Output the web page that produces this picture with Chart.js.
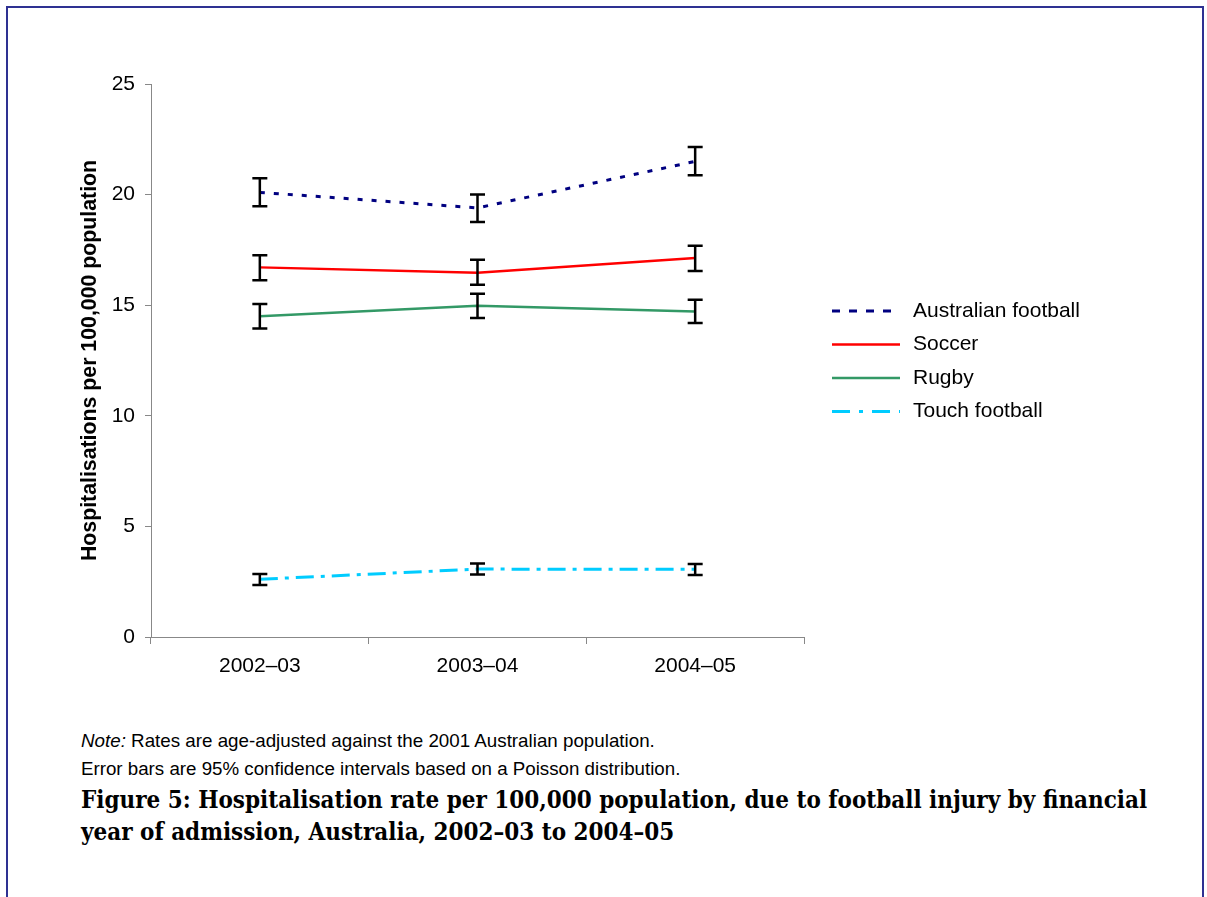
<!DOCTYPE html>
<html>
<head>
<meta charset="utf-8">
<script src="https://cdn.jsdelivr.net/npm/chart.js@4"></script>
<style>
html, body { margin: 0; padding: 0; background: #fff; }
#page { position: relative; width: 1207px; height: 897px; overflow: hidden; }
#frame { position: absolute; left: 6px; top: 6px; width: 1194px; height: 1000px; border: 2px solid #2e3192; }
#wrap { position: absolute; left: 0; top: 0; width: 1207px; height: 700px; }
.note { position: absolute; left: 81px; font-family: "Liberation Sans", Arial, sans-serif; font-size: 15px; white-space: nowrap; color: #000; line-height: 1; }
.cap { position: absolute; left: 81px; font-family: "DejaVu Serif Condensed", "DejaVu Serif", serif; font-stretch: condensed; font-weight: bold; font-size: 22px; white-space: nowrap; color: #000; line-height: 1; }
</style>
</head>
<body>
<div id="page">
  <div id="frame"></div>
  <div id="wrap"><canvas id="chart"></canvas></div>
  <div class="note" id="note1" style="top:732px"><i>Note:</i> Rates are age-adjusted against the 2001 Australian population.</div>
  <div class="note" id="note2" style="top:760px">Error bars are 95% confidence intervals based on a Poisson distribution.</div>
  <div class="cap" id="cap1" style="top:789px">Figure 5: Hospitalisation rate per 100,000 population, due to football injury by financial</div>
  <div class="cap" id="cap2" style="top:821px">year of admission, Australia, 2002–03 to 2004–05</div>
</div>
<script>
const years = ['2002–03', '2003–04', '2004–05'];

const ausFootball = [20.1, 19.4, 21.5];
const ausFootballLow = [19.47, 18.76, 20.87];
const ausFootballHigh = [20.74, 20.0, 22.15];

const soccer = [16.71, 16.47, 17.13];
const soccerLow = [16.13, 15.93, 16.55];
const soccerHigh = [17.26, 17.06, 17.69];

const rugby = [14.5, 14.98, 14.72];
const rugbyLow = [13.95, 14.42, 14.2];
const rugbyHigh = [15.05, 15.52, 15.25];

const touchFootball = [2.61, 3.07, 3.06];
const touchFootballLow = [2.35, 2.83, 2.8];
const touchFootballHigh = [2.85, 3.32, 3.3];

const yTicks = [0, 5, 10, 15, 20, 25];

const sans = '"Liberation Sans", Arial, sans-serif';

// error bars + legend drawn on top of the lines
const errorBars = {
    id: 'errorBars',
    afterDatasetsDraw(chart) {
        const ctx = chart.ctx;
        const y = chart.scales.y;
        ctx.save();
        ctx.strokeStyle = '#000';
        ctx.lineWidth = 2.5;
        ctx.setLineDash([]);
        chart.data.datasets.forEach((ds, i) => {
            const meta = chart.getDatasetMeta(i);
            meta.data.forEach((pt, j) => {
                const top = y.getPixelForValue(ds.high[j]);
                const bot = y.getPixelForValue(ds.low[j]);
                ctx.beginPath();
                ctx.moveTo(pt.x, top); ctx.lineTo(pt.x, bot);
                ctx.moveTo(pt.x - 7.5, top); ctx.lineTo(pt.x + 7.5, top);
                ctx.moveTo(pt.x - 7.5, bot); ctx.lineTo(pt.x + 7.5, bot);
                ctx.stroke();
            });
        });
        ctx.restore();
    },
    afterDraw(chart) {
        const ctx = chart.ctx;
        const area = chart.chartArea;
        ctx.save();
        ctx.font = '21px ' + sans;
        ctx.textBaseline = 'middle';
        ctx.fillStyle = '#000';
        chart.data.datasets.forEach((ds, i) => {
            const ly = area.top + 227 + i * 33.5;
            ctx.strokeStyle = ds.borderColor;
            ctx.lineWidth = ds.borderWidth;
            ctx.setLineDash(ds.legendDash || []);
            ctx.beginPath();
            ctx.moveTo(area.right + 28, ly);
            ctx.lineTo(area.right + 96, ly);
            ctx.stroke();
            ctx.fillText(ds.label, area.right + 109, ly);
        });
        ctx.restore();
    }
};

const ctx = document.getElementById('chart').getContext('2d');
const chart = new Chart(ctx, {
    type: 'line',
    data: {
        labels: years,
        datasets: [
            { label: 'Australian football', data: ausFootball, low: ausFootballLow, high: ausFootballHigh,
              borderColor: '#000080', borderWidth: 3, borderDash: [5, 9], legendDash: [8, 9] },
            { label: 'Soccer', data: soccer, low: soccerLow, high: soccerHigh,
              borderColor: '#ff0000', borderWidth: 2.5 },
            { label: 'Rugby', data: rugby, low: rugbyLow, high: rugbyHigh,
              borderColor: '#339966', borderWidth: 2.5 },
            { label: 'Touch football', data: touchFootball, low: touchFootballLow, high: touchFootballHigh,
              borderColor: '#00ccff', borderWidth: 3, borderDash: [18, 7, 4, 7], legendDash: [18, 9, 4, 9] }
        ]
    },
    options: {
        responsive: true,
        maintainAspectRatio: false,
        animation: false,
        elements: { point: { radius: 0, hoverRadius: 0 }, line: { tension: 0 } },
        layout: { padding: { left: 0, top: 84, right: 403, bottom: 0 } },
        plugins: { legend: { display: false }, tooltip: { enabled: false } },
        scales: {
            x: {
                offset: true,
                grid: { offset: true, drawOnChartArea: false, drawTicks: true, tickLength: 7, color: '#888' },
                border: { color: '#888', width: 1 },
                ticks: { color: '#000', font: { family: sans, size: 21 }, padding: 10, maxRotation: 0 },
                afterFit: s => { s.height = 63; }
            },
            y: {
                min: 0,
                max: 25,
                afterBuildTicks: s => { s.ticks = yTicks.map(v => ({ value: v })); },
                grid: { drawOnChartArea: false, drawTicks: true, tickLength: 6, color: '#888' },
                border: { color: '#888', width: 1 },
                ticks: { color: '#000', font: { family: sans, size: 21 }, padding: 10 },
                title: {
                    display: true,
                    text: 'Hospitalisations per 100,000 population',
                    color: '#000',
                    font: { family: sans, size: 21.3, weight: 'bold' },
                    padding: { top: 77, bottom: 0 }
                },
                afterFit: s => { s.width = 151; }
            }
        }
    },
    plugins: [errorBars]
});

// fit the text lines to the widths they have in the figure
function fitWidth(id, target) {
    const el = document.getElementById(id);
    const size = parseFloat(getComputedStyle(el).fontSize);
    const fitted = size * target / el.getBoundingClientRect().width;
    el.style.fontSize = fitted + 'px';
    return fitted;
}
fitWidth('note1', 574);
fitWidth('note2', 600);
const capSize = fitWidth('cap1', 1067);
document.getElementById('cap2').style.fontSize = capSize + 'px';
</script>
</body>
</html>
